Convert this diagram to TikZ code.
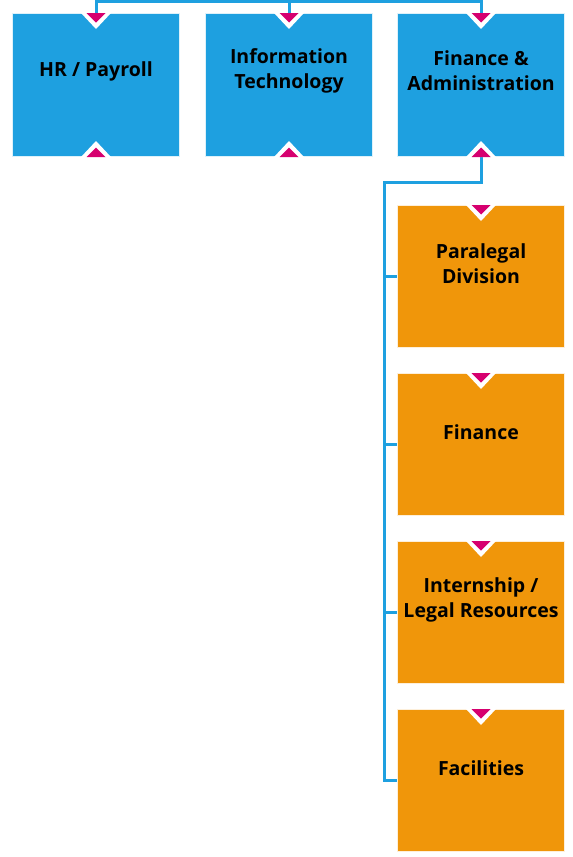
\documentclass[tikz,border=0pt]{standalone}
\usepackage{fontspec}
\setmainfont{Open Sans}
\usetikzlibrary{calc}
\definecolor{boxblue}{RGB}{30,160,224}
\definecolor{boxorange}{RGB}{240,150,10}
\definecolor{markpink}{RGB}{214,0,111}
\tikzset{
    unit/.style={draw=white!85!boxblue, line width=1pt, minimum width=167pt, minimum height=143pt, anchor=north west, inner sep=0pt},
    dept/.style={unit, fill=boxblue},
    sect/.style={unit, fill=boxorange, draw=white!85!boxorange, minimum height=142pt},
    boxtext/.style={font=\bfseries\fontsize{19.5}{25}\selectfont, align=center, text=black},
    link/.style={draw=boxblue, line width=3pt}
}
% marker at the top (pointing down) and at the bottom (pointing up)
\newcommand{\downmark}[1]{%
    \fill[white] ($(#1.north)+(-15,0)$) -- ($(#1.north)+(15,0)$) -- ($(#1.north)+(0,16)$) -- cycle;
    \fill[markpink] ($(#1.north)+(-9.5,0)$) -- ($(#1.north)+(9.5,0)$) -- ($(#1.north)+(0,9.5)$) -- cycle;}
\newcommand{\upmark}[1]{%
    \fill[white] ($(#1.south)+(-15,0)$) -- ($(#1.south)+(15,0)$) -- ($(#1.south)+(0,-16)$) -- cycle;
    \fill[markpink] ($(#1.south)+(-9.5,0)$) -- ($(#1.south)+(9.5,0)$) -- ($(#1.south)+(0,-9.5)$) -- cycle;}
\begin{document}
\begin{tikzpicture}[x=1pt, y=-1pt]
\useasboundingbox (0,0) rectangle (573,857);

\coordinate (bus) at (0,1.5);
\coordinate (spine) at (384,182);

% top row
\node[dept] (hr) at (12,13) {};
\node[dept] (it) at (205,13) {};
\node[dept] (fa) at (397,13) {};

% sections under finance
\node[sect] (para) at (397,205) {};
\node[sect] (fin) at (397,373) {};
\node[sect] (intern) at (397,541) {};
\node[sect] (fac) at (397,709) {};

% connectors
\draw[link] (hr.north) -- (hr.north |- bus) -- (fa.north |- bus) -- (fa.north);
\draw[link] (it.north) -- (it.north |- bus);
\draw[link] (fa.south) |- (spine) -- (spine |- fac.west) -- (fac.west);
\draw[link] (spine |- para.west) -- (para.west);
\draw[link] (spine |- fin.west) -- (fin.west);
\draw[link] (spine |- intern.west) -- (intern.west);

% boxes again over the lines
\node[dept] at (12,13) {};
\node[dept] at (205,13) {};
\node[dept] at (397,13) {};
\node[sect] at (397,205) {};
\node[sect] at (397,373) {};
\node[sect] at (397,541) {};
\node[sect] at (397,709) {};

\downmark{hr} \upmark{hr}
\downmark{it} \upmark{it}
\downmark{fa} \upmark{fa}
\downmark{para} \downmark{fin} \downmark{intern} \downmark{fac}

% labels
\node[boxtext] (hrtext) at ([yshift=-58pt]hr.north) {HR / Payroll};
\node[boxtext] (ittext) at ([yshift=-58pt]it.north) {Information\\Technology};
\node[boxtext] (fatext) at ([yshift=-58pt]fa.north) {Finance \&\\Administration};
\node[boxtext] (paratext) at ([yshift=-59pt]para.north) {Paralegal\\Division};
\node[boxtext] (fintext) at ([yshift=-59pt]fin.north) {Finance};
\node[boxtext] (interntext) at ([yshift=-59pt]intern.north) {Internship /\\Legal Resources};
\node[boxtext] (factext) at ([yshift=-59pt]fac.north) {Facilities};
\end{tikzpicture}
\end{document}
